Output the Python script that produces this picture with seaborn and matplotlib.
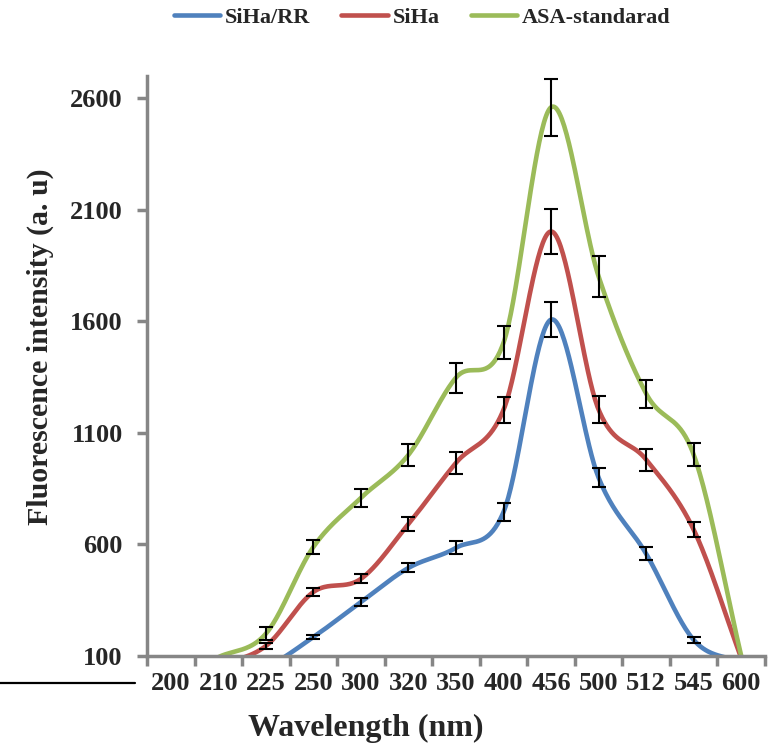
import numpy as np
import pandas as pd
import matplotlib
matplotlib.use("Agg")
import matplotlib.pyplot as plt
from matplotlib.lines import Line2D
import seaborn as sns

# ---- data ----
wavelengths = ["200", "210", "225", "250", "300", "320", "350", "400", "456", "500", "512", "545", "600"]
siha_rr = [0, 0, 50, 185, 342, 495, 585, 746, 1608, 899, 558, 172, 70]
siha = [0, 60, 145, 387, 446, 692, 966, 1204, 2003, 1204, 980, 666, 90]
asa_std = [0, 95, 200, 589, 809, 1002, 1348, 1505, 2560, 1801, 1276, 1002, 100]
err_siha_rr = [0, 0, 0, 11, 19, 20, 29, 40, 79, 43, 29, 13, 0]
err_siha = [0, 0, 12, 20, 20, 31, 49, 58, 99, 60, 49, 34, 0]
err_asa = [0, 0, 30, 30, 40, 50, 67, 74, 128, 90, 63, 52, 0]
series_names = ["SiHa/RR", "SiHa", "ASA-standarad"]
y_ticks = [100, 600, 1100, 1600, 2100, 2600]

colors = ["#4F81BD", "#C0504D", "#9BBB59"]
axis_gray = "#868686"

sns.set_theme(style="white")
plt.rcParams["font.family"] = ["Liberation Serif", "DejaVu Serif"]
plt.rcParams["font.weight"] = "bold"


def smooth(vals, n=40):
    """Catmull-Rom style smoothing (like a spreadsheet 'smoothed line')."""
    p = np.asarray(vals, dtype=float)
    m = len(p)
    t = np.zeros(m)
    for i in range(m):
        if i == 0:
            t[i] = p[1] - p[0]
        elif i == m - 1:
            t[i] = p[-1] - p[-2]
        else:
            t[i] = (p[i + 1] - p[i - 1]) / 2.0
    xs, ys = [], []
    for i in range(m - 1):
        s = np.linspace(0, 1, n, endpoint=False)
        h00 = 2 * s**3 - 3 * s**2 + 1
        h10 = s**3 - 2 * s**2 + s
        h01 = -2 * s**3 + 3 * s**2
        h11 = s**3 - s**2
        ys.append(h00 * p[i] + h10 * t[i] + h01 * p[i + 1] + h11 * t[i + 1])
        xs.append(i + s)
    xs.append(np.array([m - 1.0]))
    ys.append(np.array([p[-1]]))
    return np.concatenate(xs), np.concatenate(ys)


fig = plt.figure(figsize=(7.8, 7.48), dpi=100)
ax = fig.add_axes([0.1885, 0.1230, 0.7923, 0.7754])

frames = []
for name, vals in zip(series_names, [siha_rr, siha, asa_std]):
    xs, ys = smooth(vals)
    frames.append(pd.DataFrame({"x": xs, "y": ys, "series": name}))
df = pd.concat(frames, ignore_index=True)

sns.lineplot(data=df, x="x", y="y", hue="series", palette=colors,
             hue_order=series_names, linewidth=3.3, ax=ax, legend=False,
             sort=False, estimator=None)

xpos = np.arange(len(wavelengths))
for vals, errs in zip([siha_rr, siha, asa_std], [err_siha_rr, err_siha, err_asa]):
    v = np.array(vals, float)
    e = np.array(errs, float)
    mask = e > 0
    ax.errorbar(xpos[mask], v[mask], yerr=e[mask], fmt="none", ecolor="black",
                elinewidth=1.5, capsize=5, capthick=1.5, zorder=5)

ax.set_xlim(-0.5, len(wavelengths) - 0.5)
ax.set_ylim(100, 2700)

# x: ticks between categories, labels at category centres
ax.set_xticks(np.arange(-0.5, len(wavelengths), 1.0))
ax.set_xticklabels([])
ax.set_xticks(xpos, minor=True)
ax.set_xticklabels(wavelengths, minor=True, fontsize=19, fontweight="bold")
ax.tick_params(axis="x", which="major", length=7, width=2.5, color=axis_gray,
               direction="out", bottom=True)
ax.tick_params(axis="x", which="minor", length=0, pad=11.5, bottom=True)

ax.set_yticks(y_ticks)
ax.set_yticklabels([str(t) for t in y_ticks], fontsize=19, fontweight="bold")
ax.tick_params(axis="y", which="major", length=7, width=2.5, color=axis_gray,
               direction="out", left=True, pad=10.5)

for side in ["top", "right"]:
    ax.spines[side].set_visible(False)
for side in ["left", "bottom"]:
    ax.spines[side].set_color(axis_gray)
    ax.spines[side].set_linewidth(2.5)

ax.set_xlabel("Wavelength (nm)", fontsize=23, fontweight="bold")
ax.set_ylabel("Fluorescence intensity (a. u)", fontsize=21.5, fontweight="bold")
ax.xaxis.set_label_coords(0.354, -0.100)
ax.yaxis.set_label_coords(-0.150, 0.533)

handles = [Line2D([0], [0], color=c, lw=3.3) for c in colors]
fig.legend(handles, series_names, loc="center", bbox_to_anchor=(0.541, 0.976),
           ncol=3, frameon=False, prop={"family": "Liberation Serif", "weight": "bold", "size": 16},
           handlelength=2.1, handletextpad=0.2, columnspacing=1.4)

# stray rule at lower left in the reference
fig.add_artist(Line2D([0.0, 135 / 780], [1 - 683 / 748, 1 - 683 / 748],
                      color="black", lw=1.6, transform=fig.transFigure))

fig.savefig("out.png", dpi=100)
